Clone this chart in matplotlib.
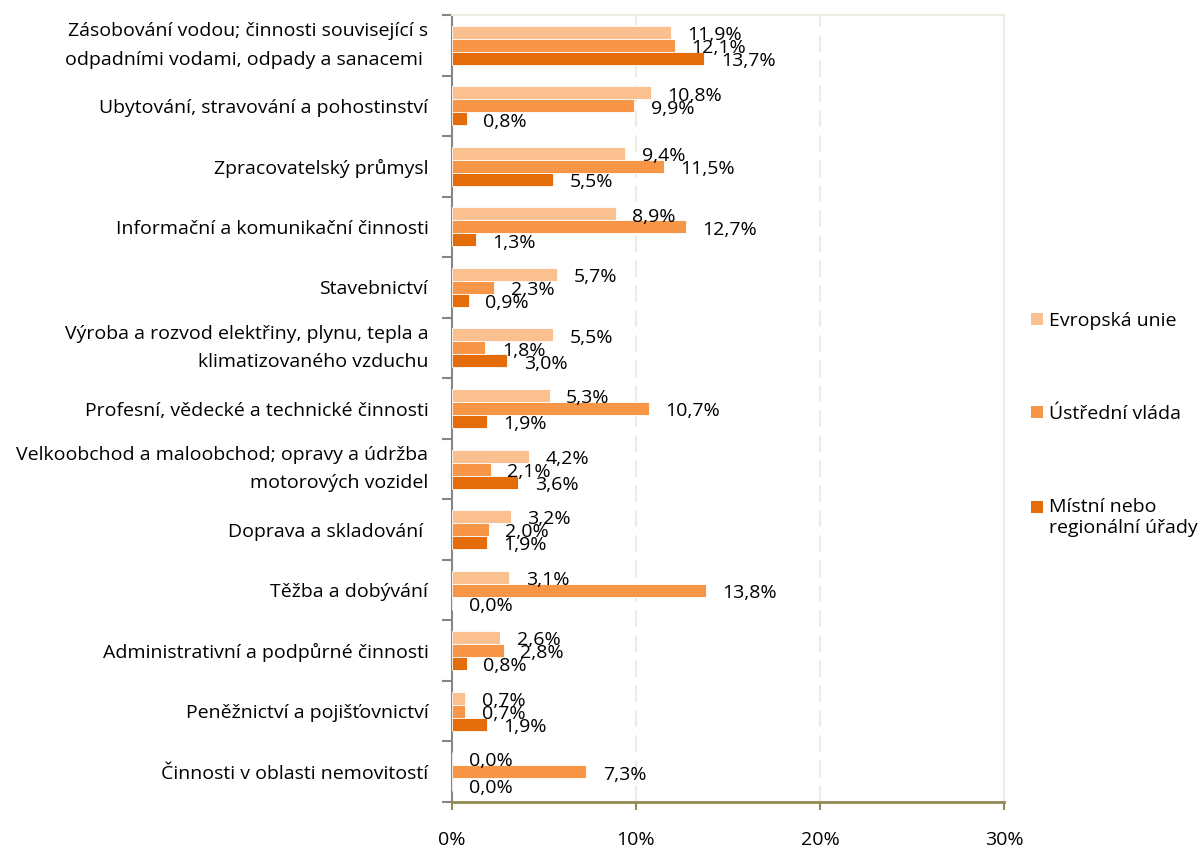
import matplotlib
matplotlib.use("Agg")
import matplotlib.pyplot as plt
import numpy as np
from matplotlib.ticker import FixedLocator, PercentFormatter
from matplotlib.patches import Patch, Rectangle
from matplotlib.legend_handler import HandlerPatch

plt.rcParams['font.family'] = ['Open Sans', 'DejaVu Sans']

categories = [
    "Zásobování vodou; činnosti související s\nodpadními vodami, odpady a sanacemi ",
    "Ubytování, stravování a pohostinství",
    "Zpracovatelský průmysl",
    "Informační a komunikační činnosti",
    "Stavebnictví",
    "Výroba a rozvod elektřiny, plynu, tepla a\nklimatizovaného vzduchu",
    "Profesní, vědecké a technické činnosti",
    "Velkoobchod a maloobchod; opravy a údržba\nmotorových vozidel",
    "Doprava a skladování ",
    "Těžba a dobývání",
    "Administrativní a podpůrné činnosti",
    "Peněžnictví a pojišťovnictví",
    "Činnosti v oblasti nemovitostí",
]
series_names = ["Evropská unie", "Ústřední vláda", "Místní nebo\nregionální úřady"]
eu = [11.9, 10.8, 9.4, 8.9, 5.7, 5.5, 5.3, 4.2, 3.2, 3.1, 2.6, 0.7, 0.0]
central = [12.1, 9.9, 11.5, 12.7, 2.3, 1.8, 10.7, 2.1, 2.0, 13.8, 2.8, 0.7, 7.3]
local = [13.7, 0.8, 5.5, 1.3, 0.9, 3.0, 1.9, 3.6, 1.9, 0.0, 0.8, 1.9, 0.0]
xticks = [0, 10, 20, 30]
colors = ["#FAC090", "#F79646", "#E46C0A"]

fig = plt.figure(figsize=(12.01, 8.52), dpi=100)
ax = fig.add_axes([452/1201, 1-802/852, (1004-452)/1201, (802-15)/852])

n = len(categories)
y = np.arange(n)
h = 0.215
offsets = [-h, 0, h]
fs = 14
for vals, off, col, name in zip([eu, central, local], offsets, colors, series_names):
    ax.barh(y + off, vals, height=h, color=col, edgecolor='white', linewidth=0.6, label=name, zorder=3)
    for yi, v in zip(y + off, vals):
        ax.annotate(f"{v:.1f}%".replace('.', ','), (v, yi), xytext=(12, -2),
                    textcoords='offset points', ha='left', va='center',
                    fontsize=fs, color='#000000', zorder=4)

ax.set_xlim(0, 30)
ax.set_ylim(n - 0.5, -0.5)
ax.set_xticks(xticks)
ax.xaxis.set_major_formatter(PercentFormatter(decimals=0))
ax.tick_params(axis='x', direction='out', length=6, width=1.5, color='#948A54',
               pad=15, labelsize=fs)
ax.set_yticks(y)
ax.set_yticklabels(categories, fontsize=fs, linespacing=1.75)
for lab in ax.get_yticklabels():
    if "\n" in lab.get_text():
        lab.set_va('center')
ax.yaxis.set_minor_locator(FixedLocator(np.arange(n + 1) - 0.5))
ax.tick_params(axis='y', which='major', length=0, pad=17)
ax.tick_params(axis='y', which='minor', length=7, width=1.5, color='#868686', direction='out')

for xv in [10, 20]:
    ax.axvline(xv, color='#EEECE1', lw=1.5, ls=(0, (8, 4)), zorder=1)

ax.spines['left'].set_color('#868686')
ax.spines['left'].set_linewidth(1.5)
ax.spines['bottom'].set_color('#948A54')
ax.spines['bottom'].set_linewidth(2)
ax.spines['top'].set_color('#EEECE1')
ax.spines['right'].set_color('#EEECE1')
ax.spines['top'].set_linewidth(1.5)
ax.spines['right'].set_linewidth(1.5)


def first_line_patch(legend, orig_handle, xdescent, ydescent, width, height, fontsize):
    return Rectangle((-xdescent, -ydescent + 7.5), width, height)


handles = [Patch(facecolor=c, edgecolor='none') for c in colors]
fig.legend(handles, series_names, loc='upper left', bbox_to_anchor=(1031/1201, 1-312/852),
           frameon=False, fontsize=fs, labelspacing=3.86, handlelength=0.6, handleheight=0.6,
           handletextpad=0.35, borderpad=0, borderaxespad=0,
           handler_map={handles[2]: HandlerPatch(patch_func=first_line_patch)})

fig.savefig("out.png", dpi=100)
